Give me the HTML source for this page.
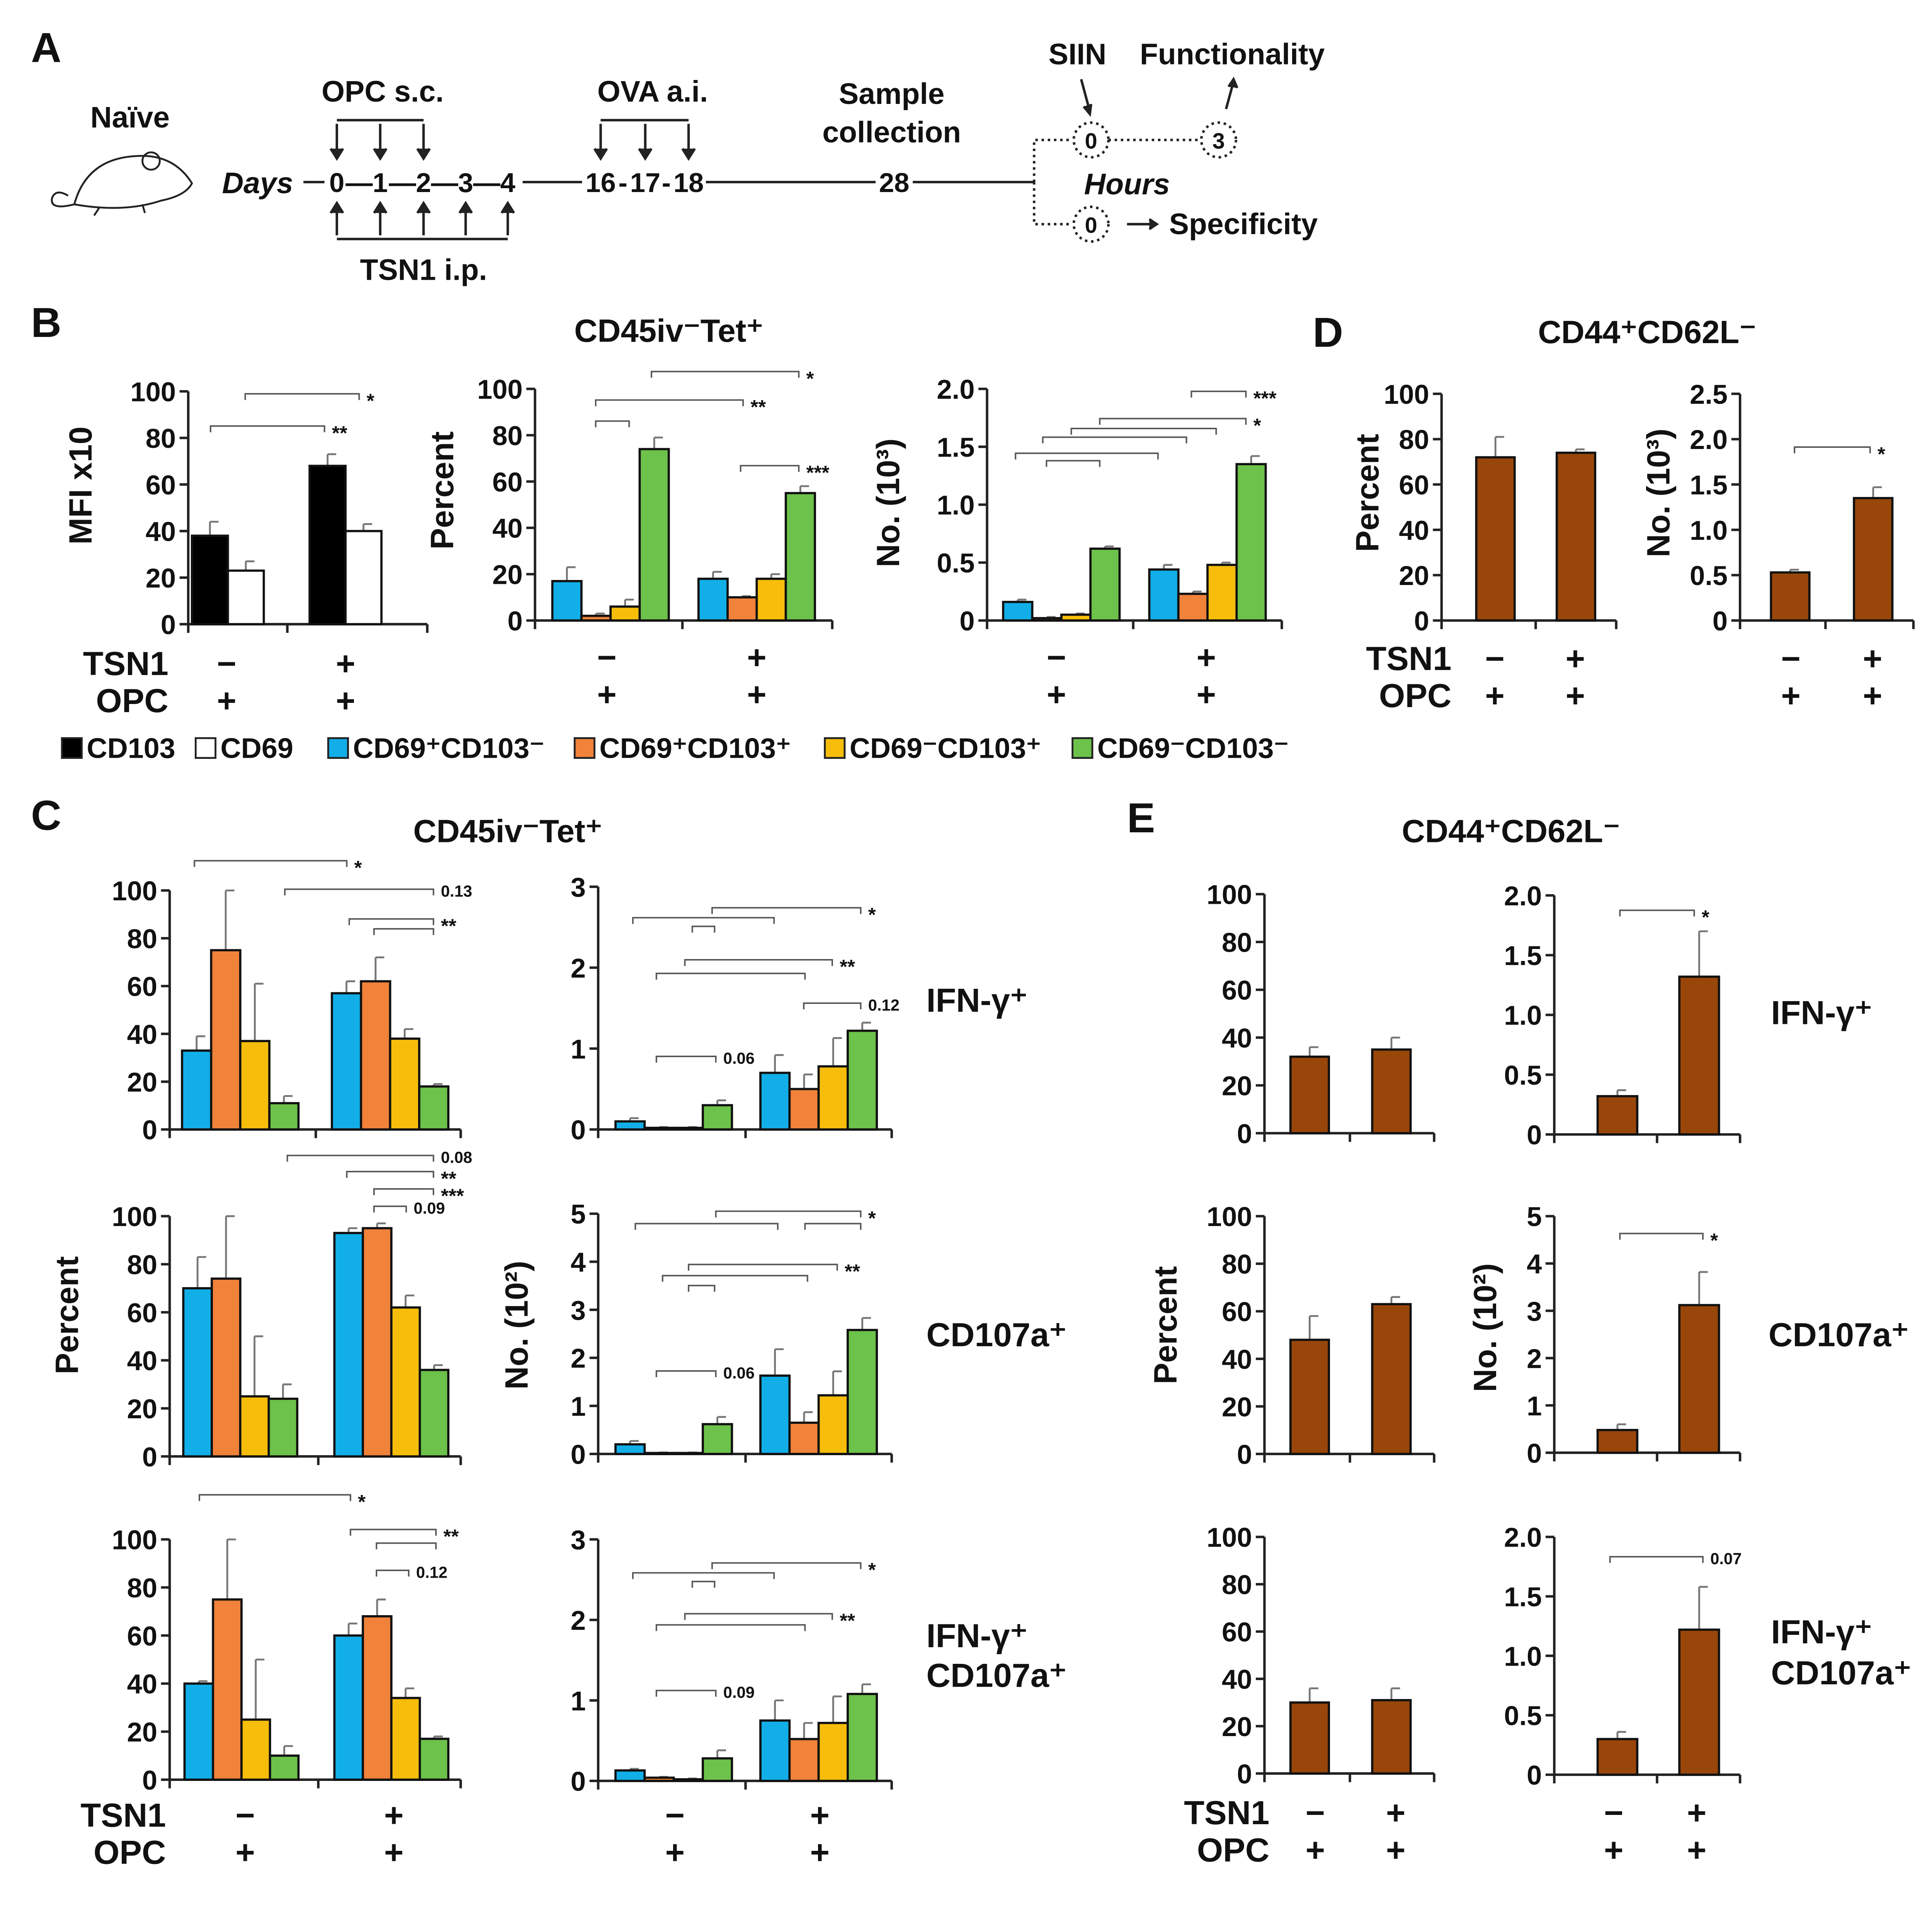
<!DOCTYPE html>
<html><head><meta charset="utf-8"><style>
html,body{margin:0;padding:0;background:#fff;overflow:hidden}
svg{display:block;position:absolute;left:0;top:0;width:100vw;height:calc(100vw * 6434 / 6590)}
text{font-family:"Liberation Sans",Arial,sans-serif;font-weight:bold;fill:#111}
</style></head><body>
<svg id="fig" xmlns="http://www.w3.org/2000/svg" viewBox="0 0 1560 1523" preserveAspectRatio="xMinYMin meet">
<rect width="1560" height="1523" fill="#fff"/>
<g id="panelA" stroke="#222" stroke-width="2" fill="none">
<text x="25" y="50" font-size="34" stroke="none">A</text>
<text x="105" y="103" font-size="24" text-anchor="middle" stroke="none">Naïve</text>
<g stroke-width="1.5">
<path d="M60 165 Q70 128 110 126 Q140 124 155 148 Q150 158 130 162 Q100 172 60 165 Z"/>
<path d="M60 165 Q40 170 42 160 Q45 152 55 158"/>
<circle cx="122" cy="130" r="7"/><path d="M80 168 l-4 6 M115 165 l2 7"/>
</g>
<text x="208" y="156" font-size="24" font-style="italic" text-anchor="middle" stroke="none">Days</text>
<line x1="245" y1="147" x2="835" y2="147"/>
<line x1="272" y1="97" x2="342" y2="97"/><line x1="485" y1="97" x2="556" y2="97"/>
<line x1="272" y1="193" x2="410" y2="193"/>
<path d="M272 100V126 M307 100V126 M342 100V126 M485 100V126 M521 100V126 M556 100V126"/>
<path d="M267 120l5 8 5-8 M302 120l5 8 5-8 M337 120l5 8 5-8 M480 120l5 8 5-8 M516 120l5 8 5-8 M551 120l5 8 5-8" fill="#222"/>
<path d="M272 190V166 M307 190V166 M342 190V166 M376 190V166 M410 190V166"/>
<path d="M267 172l5-8 5 8 M302 172l5-8 5 8 M337 172l5-8 5 8 M371 172l5-8 5 8 M405 172l5-8 5 8" fill="#222"/>
<g stroke="none">
<rect x="262" y="136" width="160" height="22" fill="#fff"/><rect x="470" y="136" width="100" height="22" fill="#fff"/><rect x="707" y="136" width="30" height="22" fill="#fff"/>
<text font-size="22" text-anchor="middle" y="155"><tspan x="272">0</tspan><tspan x="290">—</tspan><tspan x="307">1</tspan><tspan x="325">—</tspan><tspan x="342">2</tspan><tspan x="359">—</tspan><tspan x="376">3</tspan><tspan x="393">—</tspan><tspan x="410">4</tspan></text>
<text font-size="22" text-anchor="middle" y="155"><tspan x="485">16</tspan><tspan x="503">-</tspan><tspan x="521">17</tspan><tspan x="538">-</tspan><tspan x="556">18</tspan><tspan x="722">28</tspan></text>
<text x="309" y="82" font-size="24" text-anchor="middle">OPC s.c.</text>
<text x="527" y="82" font-size="24" text-anchor="middle">OVA a.i.</text>
<text x="342" y="226" font-size="24" text-anchor="middle">TSN1 i.p.</text>
<text x="720" y="84" font-size="24" text-anchor="middle">Sample</text>
<text x="720" y="115" font-size="24" text-anchor="middle">collection</text>
<text x="870" y="52" font-size="24" text-anchor="middle">SIIN</text>
<text x="995" y="52" font-size="24" text-anchor="middle">Functionality</text>
<text x="910" y="157" font-size="24" font-style="italic" text-anchor="middle">Hours</text>
<text x="944" y="189" font-size="24">Specificity</text>
<text x="881" y="120" font-size="18" text-anchor="middle">0</text>
<text x="881" y="188" font-size="18" text-anchor="middle">0</text>
<text x="984" y="120" font-size="18" text-anchor="middle">3</text>
</g>
<path d="M835 147V113H866 M835 147V181H866 M895 113H968" stroke-dasharray="2 3"/>
<circle cx="881" cy="113" r="14" stroke-dasharray="2 3"/><circle cx="881" cy="181" r="14" stroke-dasharray="2 3"/><circle cx="984" cy="113" r="14" stroke-dasharray="2 3"/>
<path d="M873 64L880 90 M990 88L996 66 M910 181H932"/>
<path d="M875 86l5 6 1-8 M992 70l4-6 3 7 M928 177l6 4-6 4" fill="#222"/>
</g>
<g id="charts"></g>
<g id="labels" stroke="none"></g>
</svg>
<script>
// ---- data ----
const cats4 = ["CD69+CD103-","CD69+CD103+","CD69-CD103+","CD69-CD103-"];
const b1Values = [[38,23],[68,40]];
const b1Errors = [[6,4],[5,3]];
const b2Values = [[17,2,6,74],[18,10,18,55]];
const b2Errors = [[6,1,3,5],[3,0.5,2,3]];
const b3Values = [[0.16,0.02,0.05,0.62],[0.44,0.23,0.48,1.35]];
const b3Errors = [[0.02,0.01,0.01,0.02],[0.04,0.02,0.02,0.07]];
const d1Values = [[72],[74]];
const d1Errors = [[9],[1.5]];
const d2Values = [[0.53],[1.35]];
const d2Errors = [[0.03],[0.12]];
const c1Values = [[33,75,37,11],[57,62,38,18]];
const c1Errors = [[6,25,24,3],[5,10,4,1]];
const c2Values = [[0.1,0.02,0.02,0.3],[0.7,0.5,0.78,1.22]];
const c2Errors = [[0.04,0.01,0.01,0.06],[0.22,0.18,0.35,0.1]];
const c3Values = [[70,74,25,24],[93,95,62,36]];
const c3Errors = [[13,26,25,6],[2,2,5,2]];
const c4Values = [[0.2,0.02,0.02,0.62],[1.63,0.65,1.22,2.58]];
const c4Errors = [[0.07,0.01,0.01,0.15],[0.55,0.22,0.5,0.25]];
const c5Values = [[40,75,25,10],[60,68,34,17]];
const c5Errors = [[1,25,25,4],[5,7,4,1]];
const c6Values = [[0.13,0.04,0.02,0.28],[0.75,0.52,0.72,1.08]];
const c6Errors = [[0.02,0.01,0.01,0.1],[0.25,0.2,0.33,0.12]];
const e1Values = [[32],[35]]; const e1Errors = [[4],[5]];
const e2Values = [[0.32],[1.32]]; const e2Errors = [[0.05],[0.38]];
const e3Values = [[48],[63]]; const e3Errors = [[10],[3]];
const e4Values = [[0.48],[3.12]]; const e4Errors = [[0.12],[0.7]];
const e5Values = [[30],[31]]; const e5Errors = [[6],[5]];
const e6Values = [[0.3],[1.22]]; const e6Errors = [[0.06],[0.36]];
const pctTicks = ["0","20","40","60","80","100"];
const no20Ticks = ["0","0.5","1.0","1.5","2.0"];
const no25Ticks = ["0","0.5","1.0","1.5","2.0","2.5"];
const no3Ticks = ["0","1","2","3"];
const no5Ticks = ["0","1","2","3","4","5"];

const NS="http://www.w3.org/2000/svg";
const charts=document.getElementById('charts');
const labels=document.getElementById('labels');
const COL4=["#12aee8","#f0823a","#f6bd0a","#6cc24a"];
const BROWN="#98460a";
function mk(tag,attrs,parent){const e=document.createElementNS(NS,tag);for(const k in attrs)e.setAttribute(k,attrs[k]);(parent||charts).appendChild(e);return e;}
function txt(s,x,y,size,anchor,parent,extra){const t=mk('text',Object.assign({x:x,y:y,'font-size':size,'text-anchor':anchor||'middle'},extra||{}),parent||labels);t.textContent=s;return t;}

function chart(name,o,values,errors,ticks){
  const g=mk('g',{});
  
  
  const ymax=parseFloat(ticks[ticks.length-1]);
  const y=v=>o.bot-(v/ymax)*(o.bot-o.top);
  const ya=mk('line',{x1:o.ax,y1:o.top,x2:o.ax,y2:o.bot,stroke:'#222','stroke-width':2},g);
  
  
  const xa=mk('line',{x1:o.ax,y1:o.bot,x2:o.right,y2:o.bot,stroke:'#222','stroke-width':2},g);
  
  
  [o.ax,o.div,o.right].forEach(xx=>mk('line',{x1:xx,y1:o.bot,x2:xx,y2:o.bot+7,stroke:'#222','stroke-width':2},g));
  ticks.forEach(tl=>{const yy=y(parseFloat(tl));
    mk('line',{x1:o.ax-7,y1:yy,x2:o.ax,y2:yy,stroke:'#222','stroke-width':2},g);
    const t=txt(tl,o.ax-10,yy+8,22,'end',g);
    
    
  });
  values.forEach((grp,gi)=>{grp.forEach((v,bi)=>{
    const x=o.starts[gi]+bi*o.bw;
    const col=o.colors[bi];
    const e=errors[gi][bi];
    mk('line',{x1:x+o.bw/2,y1:y(v),x2:x+o.bw/2,y2:y(v+e),stroke:'#777','stroke-width':1.5},g);
    mk('line',{x1:x+o.bw/2,y1:y(v+e),x2:x+o.bw/2+7,y2:y(v+e),stroke:'#777','stroke-width':1.5},g);
    const r=mk('rect',{x:x,y:y(v),width:o.bw,height:o.bot-y(v),fill:col,stroke:'#111','stroke-width':1.8},g);
    
    
  });});
  (o.br||[]).forEach(b=>{
    mk('path',{d:`M${b[0]} ${b[2]+5}V${b[2]}H${b[1]}V${b[2]+5}`,stroke:'#555','stroke-width':1.2,fill:'none'},g);
    txt(b[3],b[1]+6,b[2]+(b[3].indexOf('*')>=0?11:6),b[3].indexOf('*')>=0?16:13,'start',g);
  });
}
function s4(a,b,w){return {starts:[a,b],bw:w,colors:COL4};}
chart('chart-b-mfi',Object.assign({ax:152,top:316,bot:504,right:345,div:232,starts:[155,250],bw:29,colors:['#000','#fff'],
  br:[[198,290,318,'*'],[170,262,344,'**']]}),b1Values,b1Errors,pctTicks);
chart('chart-b-percent',Object.assign({ax:432,top:314,bot:501,right:672,div:551},s4(446,564,23.5),
  {br:[[526,645,300,'*'],[481,600,323,'**'],[481,508,340,''],[598,645,376,'***']]}),b2Values,b2Errors,pctTicks);
chart('chart-b-number',Object.assign({ax:797,top:314,bot:501,right:1035,div:915},s4(810,928,23.5),
  {br:[[962,1006,316,'***'],[888,1006,338,'*'],[865,982,346,''],[842,958,353,''],[820,935,366,''],[845,888,372,'']]}),b3Values,b3Errors,no20Ticks);
chart('chart-d-percent',{ax:1164,top:318,bot:501,right:1305,div:1240,starts:[1192,1257],bw:31,colors:[BROWN]},d1Values,d1Errors,pctTicks);
chart('chart-d-number',{ax:1405,top:318,bot:501,right:1545,div:1474,starts:[1430,1497],bw:31,colors:[BROWN],br:[[1449,1510,361,'*']]},d2Values,d2Errors,no25Ticks);
chart('chart-c-ifng-percent',Object.assign({ax:137,top:719,bot:912,right:372,div:255},s4(147,268,23.5),
  {br:[[157,280,695,'*'],[230,350,718,'0.13'],[282,350,742,'**'],[302,350,750,'']]}),c1Values,c1Errors,pctTicks);
chart('chart-c-ifng-number',Object.assign({ax:483,top:716,bot:912,right:720,div:602},s4(497,614,23.5),
  {br:[[575,695,733,'*'],[511,625,741,''],[559,577,748,''],[553,672,775,'**'],[530,650,786,''],[649,695,810,'0.12'],[530,578,853,'0.06']]}),c2Values,c2Errors,no3Ticks);
chart('chart-c-cd107a-percent',Object.assign({ax:137,top:982,bot:1176,right:372,div:257},s4(148,270,23),
  {br:[[232,350,933,'0.08'],[280,350,946,'**'],[302,350,960,'***'],[302,328,974,'0.09']]}),c3Values,c3Errors,pctTicks);
chart('chart-c-cd107a-number',Object.assign({ax:483,top:980,bot:1174,right:720,div:602},s4(497,614,23.5),
  {br:[[578,695,978,'*'],[513,628,988,''],[650,695,988,''],[556,676,1021,'**'],[535,652,1030,''],[556,577,1038,''],[530,578,1107,'0.06']]}),c4Values,c4Errors,no5Ticks);
chart('chart-c-double-percent',Object.assign({ax:137,top:1243,bot:1437,right:372,div:257},s4(149,270,23),
  {br:[[161,283,1207,'*'],[283,352,1235,'**'],[304,352,1246,''],[304,330,1268,'0.12']]}),c5Values,c5Errors,pctTicks);
chart('chart-c-double-number',Object.assign({ax:483,top:1243,bot:1438,right:720,div:602},s4(497,614,23.5),
  {br:[[575,695,1262,'*'],[511,625,1270,''],[559,577,1277,''],[553,672,1303,'**'],[530,650,1312,''],[530,578,1365,'0.09']]}),c6Values,c6Errors,no3Ticks);
chart('chart-e-ifng-percent',{ax:1021,top:722,bot:915,right:1158,div:1090,starts:[1042,1108],bw:31,colors:[BROWN]},e1Values,e1Errors,pctTicks);
chart('chart-e-ifng-number',{ax:1255,top:723,bot:916,right:1405,div:1338,starts:[1290,1356],bw:32,colors:[BROWN],br:[[1308,1368,735,'*']]},e2Values,e2Errors,no20Ticks);
chart('chart-e-cd107a-percent',{ax:1021,top:982,bot:1174,right:1158,div:1090,starts:[1042,1108],bw:31,colors:[BROWN]},e3Values,e3Errors,pctTicks);
chart('chart-e-cd107a-number',{ax:1255,top:982,bot:1173,right:1405,div:1338,starts:[1290,1356],bw:32,colors:[BROWN],br:[[1308,1375,996,'*']]},e4Values,e4Errors,no5Ticks);
chart('chart-e-double-percent',{ax:1021,top:1241,bot:1432,right:1158,div:1090,starts:[1042,1108],bw:31,colors:[BROWN]},e5Values,e5Errors,pctTicks);
chart('chart-e-double-number',{ax:1255,top:1241,bot:1433,right:1405,div:1338,starts:[1290,1356],bw:32,colors:[BROWN],br:[[1300,1375,1257,'0.07']]},e6Values,e6Errors,no20Ticks);

function L(name,s,x,y,size,anchor,extra){const t=txt(s,x,y,size,anchor,labels,extra);
  
  return t;}
L('panel-label-b','B',25,272,34,'start');
L('panel-label-c','C',25,670,34,'start');
L('panel-label-d','D',1060,280,34,'start');
L('panel-label-e','E',910,672,34,'start');
L('title-b','CD45iv⁻Tet⁺',540,276,26);
L('title-d','CD44⁺CD62L⁻',1330,277,26);
L('title-c','CD45iv⁻Tet⁺',410,680,26);
L('title-e','CD44⁺CD62L⁻',1220,680,26);
function rot(name,s,x,y){L(name,s,x,y,26,'middle',{transform:`rotate(-90 ${x} ${y})`});}
rot('y-title-mfi','MFI x10',74,392);
rot('y-title-percent-b','Percent',366,396);
rot('y-title-number-b','No. (10³)',726,406);
rot('y-title-percent-d','Percent',1113,398);
rot('y-title-number-d','No. (10³)',1348,398);
rot('y-title-percent-c','Percent',63,1062);
rot('y-title-number-c','No. (10²)',426,1070);
rot('y-title-percent-e','Percent',950,1070);
rot('y-title-number-e','No. (10²)',1208,1072);
L('row-label-ifng','IFN-γ⁺',748,817,27,'start');
L('row-label-cd107a','CD107a⁺',748,1087,27,'start');
L('row-label-double','IFN-γ⁺',748,1330,27,'start');
L('row-label-double-2','CD107a⁺',748,1362,27,'start');
L('row-label-ifng-e','IFN-γ⁺',1430,827,27,'start');
L('row-label-cd107a-e','CD107a⁺',1428,1087,27,'start');
L('row-label-double-e','IFN-γ⁺',1430,1327,27,'start');
L('row-label-double-e2','CD107a⁺',1430,1360,27,'start');
function signs(xName,x1,x2,yT,yO,nameX){
  if(nameX!==null){L('tsn1-label','TSN1',nameX,yT,27,'end');L('opc-label','OPC',nameX,yO,27,'end');}
  L('tsn1-minus','−',x1,yT,27);L('tsn1-plus','+',x2,yT,27);L('opc-plus','+',x1,yO,27);L('opc-plus','+',x2,yO,27);
}
signs('b1',183,279,545,575,136);
signs('b2',490,611,540,570,null);
signs('b3',853,974,540,570,null);
signs('d1',1207,1272,541,571,1172);
signs('d2',1446,1512,541,571,null);
signs('c1',198,318,1475,1505,134);
signs('c2',545,662,1475,1505,null);
signs('e1',1062,1127,1473,1503,1025);
signs('e2',1303,1370,1473,1503,null);
const legItems=[["CD103","#000",50],["CD69","#fff",158],["CD69⁺CD103⁻",COL4[0],265],["CD69⁺CD103⁺",COL4[1],464],["CD69⁻CD103⁺",COL4[2],666],["CD69⁻CD103⁻",COL4[3],866]];
legItems.forEach(it=>{
  const g=mk('g',{},labels);
  
  
  mk('rect',{x:it[2],y:596,width:16,height:16,fill:it[1],stroke:'#222','stroke-width':1.5},g);
  txt(it[0],it[2]+20,612,23,'start',g);
});
</script>
</body></html>
